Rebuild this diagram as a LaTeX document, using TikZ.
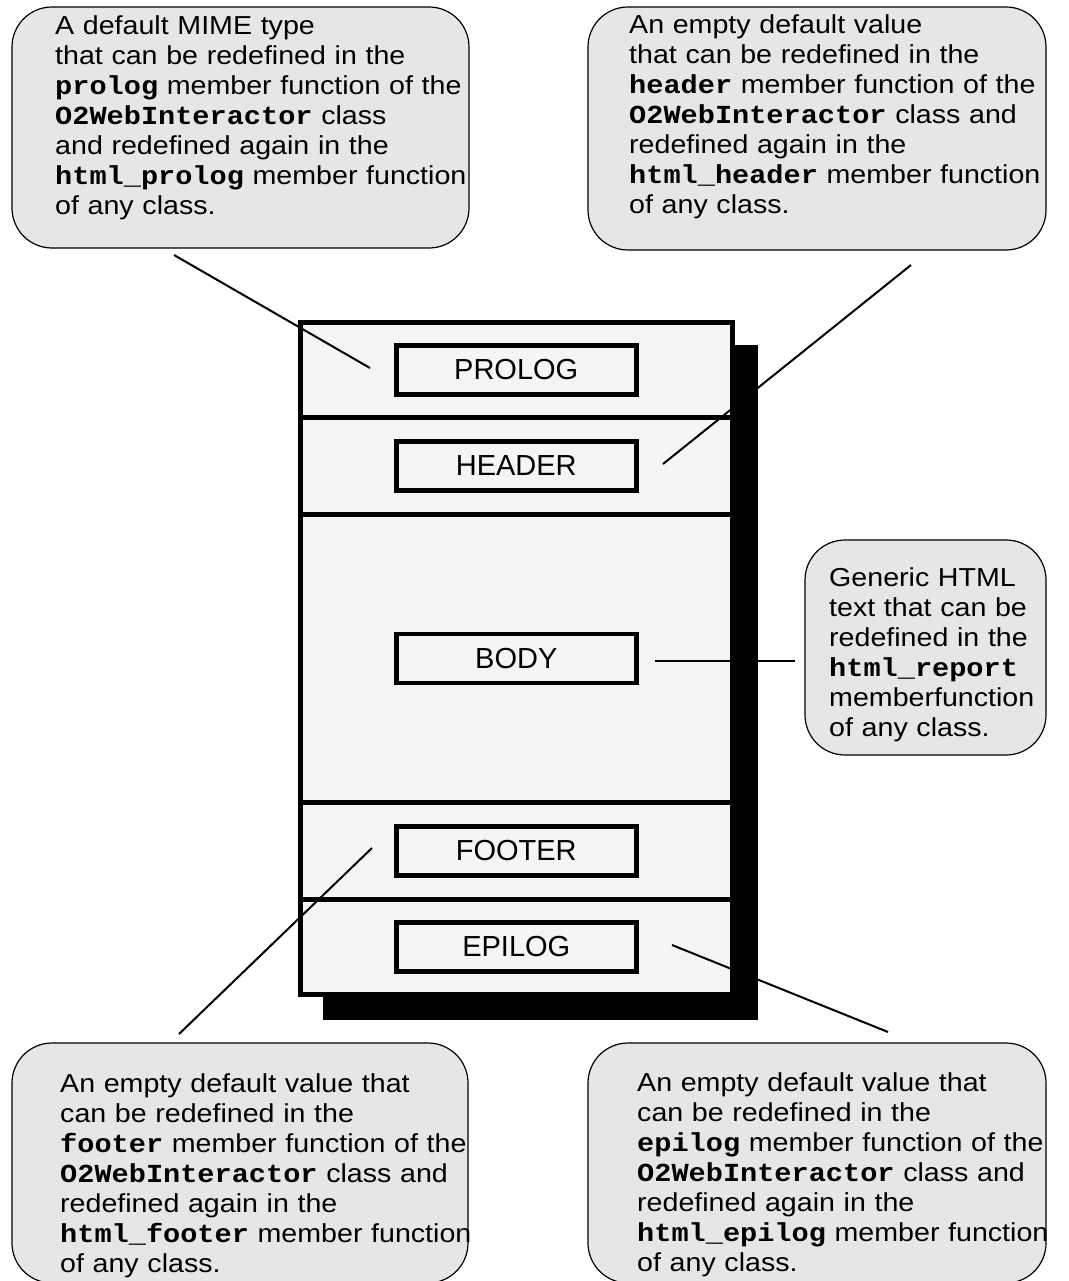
\documentclass[tikz,border=0pt]{standalone}
\usepackage{fontspec}
\setmainfont{Liberation Sans}[FakeStretch=1.1]
\newfontfamily\labelfont{Liberation Sans}
\newfontfamily\codefont{Liberation Mono}[FakeStretch=1.1]
\newcommand{\code}[1]{{\codefont\bfseries #1}}
\definecolor{framegray}{HTML}{F5F5F5}
\definecolor{notegray}{HTML}{E6E6E6}

\begin{document}
\begin{tikzpicture}[x=1pt, y=-1pt,
        every node/.style={font=\fontsize{26}{30}\selectfont},
        section/.style={draw, line width=5pt, fill=framegray, minimum width=432.5pt, inner sep=0pt},
        part/.style={draw, line width=4.5pt, fill=framegray, minimum width=240pt, minimum height=49pt, inner sep=0pt, font=\labelfont\fontsize{29}{30}\selectfont},
        callout/.style={draw, line width=1.2pt, fill=notegray, rounded corners=40pt, inner sep=0pt},
        note/.style={anchor=base west, text width=480pt, align=left, inner sep=0pt},
        link/.style={line width=2pt}
    ]
        \useasboundingbox (0,0) rectangle (1068,1281);

        % page frame with its shadow
        \fill (323,345) rectangle (758,1020);
        \node[section, minimum height=95pt] (prologsec) at (516.25,370) {};
        \node[section, minimum height=96.5pt] (headersec) at (516.25,465.75) {};
        \node[section, minimum height=288.5pt] (bodysec) at (516.25,658.25) {};
        \node[section, minimum height=97pt] (footersec) at (516.25,851) {};
        \node[section, minimum height=95pt] (epilogsec) at (516.25,947) {};

        \node[part] (prolog) at (prologsec) {PROLOG};
        \node[part] (header) at (headersec) {HEADER};
        \node[part] (body) at (bodysec) {BODY};
        \node[part] (footer) at (footersec) {FOOTER};
        \node[part] (epilog) at (epilogsec) {EPILOG};

        % callouts
        \node[callout, minimum width=457pt, minimum height=241pt] (prolognote) at (240.5,127.5) {};
        \node[callout, minimum width=458pt, minimum height=243pt] (headernote) at (817,128.5) {};
        \node[callout, minimum width=241pt, minimum height=215pt] (bodynote) at (925.5,647.5) {};
        \node[callout, minimum width=456pt, minimum height=240pt] (footernote) at (240,1163) {};
        \node[callout, minimum width=458pt, minimum height=240pt] (epilognote) at (817,1163) {};

        \node[note] (prologtext) at (55,35) {A default MIME type\\that can be redefined in the\\\code{prolog} member function of the\\\code{O2WebInteractor} class\\and redefined again in the\\\code{html\_prolog} member function\\of any class.};
        \node[note] (headertext) at (629,34) {An empty default value\\that can be redefined in the\\\code{header} member function of the\\\code{O2WebInteractor} class and\\redefined again in the\\\code{html\_header} member function\\of any class.};
        \node[note] (bodytext) at (829,586) {Generic HTML\\text that can be\\redefined in the\\\code{html\_report}\\memberfunction\\of any class.};
        \node[note] (footertext) at (60,1092) {An empty default value that\\can be redefined in the\\\code{footer} member function of the\\\code{O2WebInteractor} class and\\redefined again in the\\\code{html\_footer} member function\\of any class.};
        \node[note] (epilogtext) at (637,1091) {An empty default value that\\can be redefined in the\\\code{epilog} member function of the\\\code{O2WebInteractor} class and\\redefined again in the\\\code{html\_epilog} member function\\of any class.};

        % pointers
        \coordinate (prologend) at (174,255);
        \coordinate (prologtip) at (370,368);
        \coordinate (headerend) at (911,265);
        \coordinate (headertip) at (663,464);
        \coordinate (bodyend) at (795,661);
        \coordinate (bodytip) at (655,661);
        \coordinate (footerend) at (179,1034);
        \coordinate (footertip) at (372,848);
        \coordinate (epilogend) at (888,1032);
        \coordinate (epilogtip) at (672,945);
        \draw[link] (prologend) -- (prologtip);
        \draw[link] (headerend) -- (headertip);
        \draw[link] (bodyend) -- (bodytip);
        \draw[link] (footerend) -- (footertip);
        \draw[link] (epilogend) -- (epilogtip);
    \end{tikzpicture}
\end{document}
